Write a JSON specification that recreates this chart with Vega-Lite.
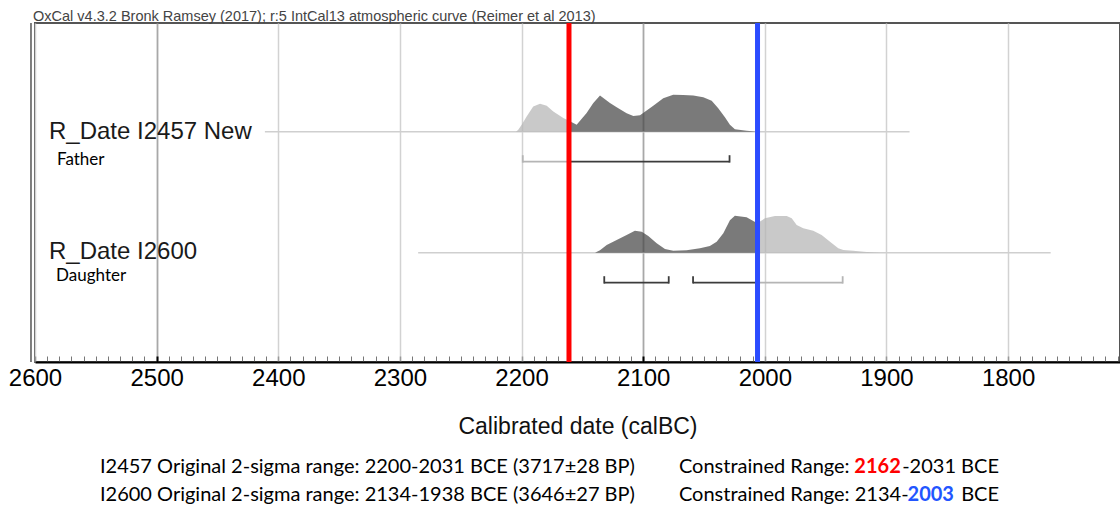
{
  "$schema": "https://vega.github.io/schema/vega-lite/v6.json",
  "width": 1085,
  "height": 339,
  "autosize": {"type": "none"},
  "padding": {"left": 35, "top": 23, "right": 0, "bottom": 144},
  "background": "white",
  "config": {"view": {"stroke": "#555", "strokeWidth": 2}},
  "datasets": {
    "density": [
      {"sample": "I2457", "part": "outside", "year": 2204.5, "prob": 0},
      {"sample": "I2457", "part": "outside", "year": 2202.7, "prob": 2},
      {"sample": "I2457", "part": "outside", "year": 2199.9, "prob": 7},
      {"sample": "I2457", "part": "outside", "year": 2195.8, "prob": 15.3},
      {"sample": "I2457", "part": "outside", "year": 2190.4, "prob": 25.3},
      {"sample": "I2457", "part": "outside", "year": 2184.8, "prob": 28},
      {"sample": "I2457", "part": "outside", "year": 2179.3, "prob": 26},
      {"sample": "I2457", "part": "outside", "year": 2173.9, "prob": 20.3},
      {"sample": "I2457", "part": "outside", "year": 2165.7, "prob": 13.7},
      {"sample": "I2457", "part": "outside", "year": 2161.0, "prob": 11},
      {"sample": "I2457", "part": "inside", "year": 2161.0, "prob": 11},
      {"sample": "I2457", "part": "inside", "year": 2154.7, "prob": 7},
      {"sample": "I2457", "part": "inside", "year": 2146.5, "prob": 18.7},
      {"sample": "I2457", "part": "inside", "year": 2141.0, "prob": 28.7},
      {"sample": "I2457", "part": "inside", "year": 2135.5, "prob": 36.3},
      {"sample": "I2457", "part": "inside", "year": 2127.3, "prob": 28.7},
      {"sample": "I2457", "part": "inside", "year": 2121.8, "prob": 24.4},
      {"sample": "I2457", "part": "inside", "year": 2113.6, "prob": 18.4},
      {"sample": "I2457", "part": "inside", "year": 2108.1, "prob": 15.7},
      {"sample": "I2457", "part": "inside", "year": 2102.6, "prob": 16.4},
      {"sample": "I2457", "part": "inside", "year": 2091.7, "prob": 26},
      {"sample": "I2457", "part": "inside", "year": 2083.5, "prob": 33.4},
      {"sample": "I2457", "part": "inside", "year": 2075.3, "prob": 37},
      {"sample": "I2457", "part": "inside", "year": 2067.1, "prob": 36.7},
      {"sample": "I2457", "part": "inside", "year": 2058.8, "prob": 36.3},
      {"sample": "I2457", "part": "inside", "year": 2050.6, "prob": 34.4},
      {"sample": "I2457", "part": "inside", "year": 2043.7, "prob": 31},
      {"sample": "I2457", "part": "inside", "year": 2038.3, "prob": 23.4},
      {"sample": "I2457", "part": "inside", "year": 2032.8, "prob": 14.4},
      {"sample": "I2457", "part": "inside", "year": 2028.7, "prob": 7},
      {"sample": "I2457", "part": "inside", "year": 2024.6, "prob": 2.4},
      {"sample": "I2457", "part": "inside", "year": 2015.0, "prob": 1},
      {"sample": "I2457", "part": "inside", "year": 2008.1, "prob": 0.3},
      {"sample": "I2457", "part": "inside", "year": 2006.0, "prob": 0},
      {"sample": "I2600", "part": "inside", "year": 2139.6, "prob": 0},
      {"sample": "I2600", "part": "inside", "year": 2135.5, "prob": 2.4},
      {"sample": "I2600", "part": "inside", "year": 2130.0, "prob": 7.7},
      {"sample": "I2600", "part": "inside", "year": 2121.8, "prob": 12.7},
      {"sample": "I2600", "part": "inside", "year": 2113.6, "prob": 17.7},
      {"sample": "I2600", "part": "inside", "year": 2106.8, "prob": 22},
      {"sample": "I2600", "part": "inside", "year": 2101.2, "prob": 21},
      {"sample": "I2600", "part": "inside", "year": 2095.8, "prob": 16.7},
      {"sample": "I2600", "part": "inside", "year": 2088.9, "prob": 9.4},
      {"sample": "I2600", "part": "inside", "year": 2082.1, "prob": 3.7},
      {"sample": "I2600", "part": "inside", "year": 2075.3, "prob": 2},
      {"sample": "I2600", "part": "inside", "year": 2064.3, "prob": 2.4},
      {"sample": "I2600", "part": "inside", "year": 2053.3, "prob": 4.4},
      {"sample": "I2600", "part": "inside", "year": 2045.2, "prob": 6.7},
      {"sample": "I2600", "part": "inside", "year": 2039.6, "prob": 11},
      {"sample": "I2600", "part": "inside", "year": 2034.1, "prob": 19.4},
      {"sample": "I2600", "part": "inside", "year": 2028.7, "prob": 32.4},
      {"sample": "I2600", "part": "inside", "year": 2024.6, "prob": 37},
      {"sample": "I2600", "part": "inside", "year": 2015.0, "prob": 35.4},
      {"sample": "I2600", "part": "inside", "year": 2006.2, "prob": 29.4},
      {"sample": "I2600", "part": "outside", "year": 2006.2, "prob": 29.4},
      {"sample": "I2600", "part": "outside", "year": 1999.9, "prob": 34.4},
      {"sample": "I2600", "part": "outside", "year": 1991.7, "prob": 36.7},
      {"sample": "I2600", "part": "outside", "year": 1982.0, "prob": 36.7},
      {"sample": "I2600", "part": "outside", "year": 1977.9, "prob": 34.4},
      {"sample": "I2600", "part": "outside", "year": 1973.8, "prob": 27.7},
      {"sample": "I2600", "part": "outside", "year": 1968.4, "prob": 24.4},
      {"sample": "I2600", "part": "outside", "year": 1960.2, "prob": 22},
      {"sample": "I2600", "part": "outside", "year": 1953.3, "prob": 17.7},
      {"sample": "I2600", "part": "outside", "year": 1946.4, "prob": 11},
      {"sample": "I2600", "part": "outside", "year": 1939.6, "prob": 4.4},
      {"sample": "I2600", "part": "outside", "year": 1935.5, "prob": 2.7},
      {"sample": "I2600", "part": "outside", "year": 1927.3, "prob": 2},
      {"sample": "I2600", "part": "outside", "year": 1916.3, "prob": 0.7},
      {"sample": "I2600", "part": "outside", "year": 1905.3, "prob": 0}
    ],
    "baselines": [
      {"sample": "I2457", "from": 2411, "to": 1881},
      {"sample": "I2600", "from": 2285, "to": 1765}
    ],
    "brackets": [
      {"sample": "I2457", "from": 2199, "to": 2161, "tone": "outside"},
      {"sample": "I2457", "from": 2161, "to": 2029, "tone": "inside"},
      {"sample": "I2600", "from": 2132, "to": 2079, "tone": "inside"},
      {"sample": "I2600", "from": 2059, "to": 2006, "tone": "inside"},
      {"sample": "I2600", "from": 2006, "to": 1936, "tone": "outside"}
    ],
    "bracketEnds": [
      {"sample": "I2457", "year": 2199, "tone": "outside"},
      {"sample": "I2457", "year": 2029, "tone": "inside"},
      {"sample": "I2600", "year": 2132, "tone": "inside"},
      {"sample": "I2600", "year": 2079, "tone": "inside"},
      {"sample": "I2600", "year": 2059, "tone": "inside"},
      {"sample": "I2600", "year": 1936, "tone": "outside"}
    ],
    "bounds": [
      {"bound": "I2457 constrained start", "year": 2161},
      {"bound": "I2600 constrained end", "year": 2006}
    ]
  },
  "layer": [
    {
      "layer": [
        {
          "data": {"name": "baselines"},
          "transform": [{"filter": "datum.sample === 'I2457'"}],
          "mark": {"type": "rule", "color": "#cfcfcf", "strokeWidth": 1.5},
          "encoding": {
            "x": {"field": "from", "type": "quantitative", "scale": {"domain": [1708, 2600], "reverse": true, "nice": false, "zero": false}, "axis": null},
            "x2": {"field": "to"},
            "y": {"datum": 0, "type": "quantitative", "scale": {"domain": [-230.3, 108.7], "nice": false, "zero": false}, "axis": null}
          }
        },
        {
          "data": {"name": "density"},
          "transform": [{"filter": "datum.sample === 'I2457'"}],
          "mark": {"type": "area", "opacity": 1, "fillOpacity": 0.72},
          "encoding": {
            "x": {"field": "year", "type": "quantitative", "scale": {"domain": [1708, 2600], "reverse": true, "nice": false, "zero": false}, "axis": null},
            "y": {"field": "prob", "type": "quantitative", "stack": null, "scale": {"domain": [-230.3, 108.7], "nice": false, "zero": false}, "axis": null},
            "y2": {"datum": 0},
            "fill": {"field": "part", "type": "nominal", "scale": {"domain": ["outside", "inside"], "range": ["#b4b4b4", "#464646"]}, "legend": null}
          }
        },
        {
          "data": {"name": "brackets"},
          "transform": [{"filter": "datum.sample === 'I2457'"}],
          "mark": {"type": "rule", "strokeWidth": 1.8},
          "encoding": {
            "x": {"field": "from", "type": "quantitative", "scale": {"domain": [1708, 2600], "reverse": true, "nice": false, "zero": false}, "axis": null},
            "x2": {"field": "to"},
            "y": {"datum": -30, "type": "quantitative", "scale": {"domain": [-230.3, 108.7], "nice": false, "zero": false}, "axis": null},
            "stroke": {"field": "tone", "type": "nominal", "scale": {"domain": ["outside", "inside"], "range": ["#b5b5b5", "#3c3c3c"]}, "legend": null}
          }
        },
        {
          "data": {"name": "bracketEnds"},
          "transform": [{"filter": "datum.sample === 'I2457'"}],
          "mark": {"type": "rule", "strokeWidth": 1.8},
          "encoding": {
            "x": {"field": "year", "type": "quantitative", "scale": {"domain": [1708, 2600], "reverse": true, "nice": false, "zero": false}, "axis": null},
            "y": {"datum": -30.9, "type": "quantitative", "scale": {"domain": [-230.3, 108.7], "nice": false, "zero": false}, "axis": null},
            "y2": {"datum": -23.5},
            "stroke": {"field": "tone", "type": "nominal", "scale": {"domain": ["outside", "inside"], "range": ["#b5b5b5", "#3c3c3c"]}, "legend": null}
          }
        },
        {
          "data": {"values": [{"label": "R_Date I2457 New"}]},
          "mark": {"type": "text", "align": "left", "baseline": "alphabetic", "font": "Liberation Sans", "fontSize": 24, "color": "#1a1a1a"},
          "encoding": {
            "text": {"field": "label"},
            "x": {"datum": 2588.5, "type": "quantitative", "scale": {"domain": [1708, 2600], "reverse": true, "nice": false, "zero": false}, "axis": null},
            "y": {"datum": -7.3, "type": "quantitative", "scale": {"domain": [-230.3, 108.7], "nice": false, "zero": false}, "axis": null}
          }
        },
        {
          "data": {"values": [{"label": "Father"}]},
          "mark": {"type": "text", "align": "left", "baseline": "alphabetic", "font": "Lato", "fontSize": 17, "color": "#000"},
          "encoding": {
            "text": {"field": "label"},
            "x": {"datum": 2581.9, "type": "quantitative", "scale": {"domain": [1708, 2600], "reverse": true, "nice": false, "zero": false}, "axis": null},
            "y": {"datum": -33.3, "type": "quantitative", "scale": {"domain": [-230.3, 108.7], "nice": false, "zero": false}, "axis": null}
          }
        }
      ]
    },
    {
      "layer": [
        {
          "data": {"name": "baselines"},
          "transform": [{"filter": "datum.sample === 'I2600'"}],
          "mark": {"type": "rule", "color": "#cfcfcf", "strokeWidth": 1.5},
          "encoding": {
            "x": {"field": "from", "type": "quantitative", "scale": {"domain": [1708, 2600], "reverse": true, "nice": false, "zero": false}, "axis": null},
            "x2": {"field": "to"},
            "y": {"datum": 0, "type": "quantitative", "scale": {"domain": [-109.3, 229.7], "nice": false, "zero": false}, "axis": null}
          }
        },
        {
          "data": {"name": "density"},
          "transform": [{"filter": "datum.sample === 'I2600'"}],
          "mark": {"type": "area", "opacity": 1, "fillOpacity": 0.72},
          "encoding": {
            "x": {"field": "year", "type": "quantitative", "scale": {"domain": [1708, 2600], "reverse": true, "nice": false, "zero": false}, "axis": null},
            "y": {"field": "prob", "type": "quantitative", "stack": null, "scale": {"domain": [-109.3, 229.7], "nice": false, "zero": false}, "axis": null},
            "y2": {"datum": 0},
            "fill": {"field": "part", "type": "nominal", "scale": {"domain": ["outside", "inside"], "range": ["#b4b4b4", "#464646"]}, "legend": null}
          }
        },
        {
          "data": {"name": "brackets"},
          "transform": [{"filter": "datum.sample === 'I2600'"}],
          "mark": {"type": "rule", "strokeWidth": 1.8},
          "encoding": {
            "x": {"field": "from", "type": "quantitative", "scale": {"domain": [1708, 2600], "reverse": true, "nice": false, "zero": false}, "axis": null},
            "x2": {"field": "to"},
            "y": {"datum": -30, "type": "quantitative", "scale": {"domain": [-109.3, 229.7], "nice": false, "zero": false}, "axis": null},
            "stroke": {"field": "tone", "type": "nominal", "scale": {"domain": ["outside", "inside"], "range": ["#b5b5b5", "#3c3c3c"]}, "legend": null}
          }
        },
        {
          "data": {"name": "bracketEnds"},
          "transform": [{"filter": "datum.sample === 'I2600'"}],
          "mark": {"type": "rule", "strokeWidth": 1.8},
          "encoding": {
            "x": {"field": "year", "type": "quantitative", "scale": {"domain": [1708, 2600], "reverse": true, "nice": false, "zero": false}, "axis": null},
            "y": {"datum": -30.9, "type": "quantitative", "scale": {"domain": [-109.3, 229.7], "nice": false, "zero": false}, "axis": null},
            "y2": {"datum": -23.5},
            "stroke": {"field": "tone", "type": "nominal", "scale": {"domain": ["outside", "inside"], "range": ["#b5b5b5", "#3c3c3c"]}, "legend": null}
          }
        },
        {
          "data": {"values": [{"label": "R_Date I2600"}]},
          "mark": {"type": "text", "align": "left", "baseline": "alphabetic", "font": "Liberation Sans", "fontSize": 24, "color": "#1a1a1a"},
          "encoding": {
            "text": {"field": "label"},
            "x": {"datum": 2588.5, "type": "quantitative", "scale": {"domain": [1708, 2600], "reverse": true, "nice": false, "zero": false}, "axis": null},
            "y": {"datum": -6.6, "type": "quantitative", "scale": {"domain": [-109.3, 229.7], "nice": false, "zero": false}, "axis": null}
          }
        },
        {
          "data": {"values": [{"label": "Daughter"}]},
          "mark": {"type": "text", "align": "left", "baseline": "alphabetic", "font": "Lato", "fontSize": 17, "color": "#000"},
          "encoding": {
            "text": {"field": "label"},
            "x": {"datum": 2582.7, "type": "quantitative", "scale": {"domain": [1708, 2600], "reverse": true, "nice": false, "zero": false}, "axis": null},
            "y": {"datum": -28.3, "type": "quantitative", "scale": {"domain": [-109.3, 229.7], "nice": false, "zero": false}, "axis": null}
          }
        },
        {
          "data": {"values": [{"label": "I2457 Original 2-sigma range: 2200-2031 BCE (3717±28 BP)"}]},
          "mark": {"type": "text", "align": "left", "baseline": "alphabetic", "font": "Lato", "fontSize": 20, "color": "#000"},
          "encoding": {
            "text": {"field": "label"},
            "x": {"datum": 2546.6, "type": "quantitative", "scale": {"domain": [1708, 2600], "reverse": true, "nice": false, "zero": false}, "axis": null},
            "y": {"datum": -220.3, "type": "quantitative", "scale": {"domain": [-109.3, 229.7], "nice": false, "zero": false}, "axis": null}
          }
        },
        {
          "data": {"values": [{"label": "I2600 Original 2-sigma range: 2134-1938 BCE (3646±27 BP)"}]},
          "mark": {"type": "text", "align": "left", "baseline": "alphabetic", "font": "Lato", "fontSize": 20, "color": "#000"},
          "encoding": {
            "text": {"field": "label"},
            "x": {"datum": 2546.6, "type": "quantitative", "scale": {"domain": [1708, 2600], "reverse": true, "nice": false, "zero": false}, "axis": null},
            "y": {"datum": -248.3, "type": "quantitative", "scale": {"domain": [-109.3, 229.7], "nice": false, "zero": false}, "axis": null}
          }
        },
        {
          "data": {"values": [{"label": "Constrained Range:"}]},
          "mark": {"type": "text", "align": "left", "baseline": "alphabetic", "font": "Lato", "fontSize": 20, "color": "#000"},
          "encoding": {
            "text": {"field": "label"},
            "x": {"datum": 2070.6, "type": "quantitative", "scale": {"domain": [1708, 2600], "reverse": true, "nice": false, "zero": false}, "axis": null},
            "y": {"datum": -220.3, "type": "quantitative", "scale": {"domain": [-109.3, 229.7], "nice": false, "zero": false}, "axis": null}
          }
        },
        {
          "data": {"values": [{"label": "2162"}]},
          "mark": {"type": "text", "align": "center", "baseline": "alphabetic", "font": "Lato", "fontSize": 20, "fontWeight": "bold", "color": "#ff0000"},
          "encoding": {
            "text": {"field": "label"},
            "x": {"datum": 1907.3, "type": "quantitative", "scale": {"domain": [1708, 2600], "reverse": true, "nice": false, "zero": false}, "axis": null},
            "y": {"datum": -220.3, "type": "quantitative", "scale": {"domain": [-109.3, 229.7], "nice": false, "zero": false}, "axis": null}
          }
        },
        {
          "data": {"values": [{"label": "-2031 BCE"}]},
          "mark": {"type": "text", "align": "right", "baseline": "alphabetic", "font": "Lato", "fontSize": 20, "color": "#000"},
          "encoding": {
            "text": {"field": "label"},
            "x": {"datum": 1807.5, "type": "quantitative", "scale": {"domain": [1708, 2600], "reverse": true, "nice": false, "zero": false}, "axis": null},
            "y": {"datum": -220.3, "type": "quantitative", "scale": {"domain": [-109.3, 229.7], "nice": false, "zero": false}, "axis": null}
          }
        },
        {
          "data": {"values": [{"label": "Constrained Range: 2134-"}]},
          "mark": {"type": "text", "align": "left", "baseline": "alphabetic", "font": "Lato", "fontSize": 20, "color": "#000"},
          "encoding": {
            "text": {"field": "label"},
            "x": {"datum": 2070.6, "type": "quantitative", "scale": {"domain": [1708, 2600], "reverse": true, "nice": false, "zero": false}, "axis": null},
            "y": {"datum": -248.3, "type": "quantitative", "scale": {"domain": [-109.3, 229.7], "nice": false, "zero": false}, "axis": null}
          }
        },
        {
          "data": {"values": [{"label": "2003"}]},
          "mark": {"type": "text", "align": "center", "baseline": "alphabetic", "font": "Lato", "fontSize": 20, "fontWeight": "bold", "color": "#2255ff"},
          "encoding": {
            "text": {"field": "label"},
            "x": {"datum": 1863.6, "type": "quantitative", "scale": {"domain": [1708, 2600], "reverse": true, "nice": false, "zero": false}, "axis": null},
            "y": {"datum": -248.3, "type": "quantitative", "scale": {"domain": [-109.3, 229.7], "nice": false, "zero": false}, "axis": null}
          }
        },
        {
          "data": {"values": [{"label": "BCE"}]},
          "mark": {"type": "text", "align": "right", "baseline": "alphabetic", "font": "Lato", "fontSize": 20, "color": "#000"},
          "encoding": {
            "text": {"field": "label"},
            "x": {"datum": 1807.5, "type": "quantitative", "scale": {"domain": [1708, 2600], "reverse": true, "nice": false, "zero": false}, "axis": null},
            "y": {"datum": -248.3, "type": "quantitative", "scale": {"domain": [-109.3, 229.7], "nice": false, "zero": false}, "axis": null}
          }
        }
      ]
    },
    {
      "data": {"values": [{"label": "OxCal v4.3.2 Bronk Ramsey (2017); r:5 IntCal13 atmospheric curve (Reimer et al 2013)"}]},
      "mark": {"type": "text", "align": "left", "baseline": "alphabetic", "font": "Liberation Sans", "fontSize": 14.5, "color": "#444"},
      "encoding": {
        "text": {"field": "label"},
        "x": {
          "datum": 2601.6,
          "type": "quantitative",
          "scale": {"domain": [1708, 2600], "reverse": true, "nice": false, "zero": false},
          "axis": {
            "orient": "bottom",
            "values": [2500, 2100],
            "labels": false,
            "domain": false,
            "title": null,
            "grid": true,
            "gridColor": "#a8a8a8",
            "gridWidth": 1.8,
            "tickSize": -6,
            "tickColor": "#000",
            "tickWidth": 2
          }
        },
        "y": {"datum": 110.7, "type": "quantitative", "scale": {"domain": [-230.3, 108.7], "nice": false, "zero": false}, "axis": null}
      }
    },
    {
      "data": {"values": [{"edge": "left frame"}]},
      "mark": {"type": "rule", "color": "#555", "strokeWidth": 1.5},
      "encoding": {
        "x": {
          "datum": 2603.3,
          "type": "quantitative",
          "scale": {"domain": [1708, 2600], "reverse": true, "nice": false, "zero": false},
          "axis": {
            "orient": "bottom",
            "values": [2590,2580,2570,2560,2550,2540,2530,2520,2510,2490,2480,2470,2460,2450,2440,2430,2420,2410,2390,2380,2370,2360,2350,2340,2330,2320,2310,2290,2280,2270,2260,2250,2240,2230,2220,2210,2190,2180,2170,2160,2150,2140,2130,2120,2110,2090,2080,2070,2060,2050,2040,2030,2020,2010,1990,1980,1970,1960,1950,1940,1930,1920,1910,1890,1880,1870,1860,1850,1840,1830,1820,1810,1790,1780,1770,1760,1750,1740,1730,1720,1710],
            "labels": false,
            "domain": false,
            "grid": false,
            "title": null,
            "tickSize": -6,
            "tickColor": "#777",
            "tickWidth": 1
          }
        }
      }
    },
    {
      "data": {"name": "bounds"},
      "transform": [{"filter": "datum.bound === 'I2600 constrained end'"}],
      "mark": {"type": "rule", "strokeWidth": 5},
      "encoding": {
        "x": {
          "field": "year",
          "type": "quantitative",
          "scale": {"domain": [1708, 2600], "reverse": true, "nice": false, "zero": false},
          "axis": {
            "orient": "bottom",
            "values": [2600, 2400, 2300, 2200, 2000, 1900, 1800],
            "labels": false,
            "domain": false,
            "title": null,
            "grid": true,
            "gridColor": "#d2d2d2",
            "gridWidth": 1.5,
            "tickSize": -6,
            "tickColor": "#999",
            "tickWidth": 1.5
          }
        },
        "color": {"field": "bound", "type": "nominal", "scale": {"domain": ["I2457 constrained start", "I2600 constrained end"], "range": ["#ff0000", "#2b4cff"]}, "legend": null}
      }
    },
    {
      "data": {"name": "bounds"},
      "transform": [{"filter": "datum.bound === 'I2457 constrained start'"}],
      "mark": {"type": "rule", "strokeWidth": 5},
      "encoding": {
        "x": {
          "field": "year",
          "type": "quantitative",
          "scale": {"domain": [1708, 2600], "reverse": true, "nice": false, "zero": false},
          "axis": {
            "orient": "bottom",
            "values": [2600, 2500, 2400, 2300, 2200, 2100, 2000, 1900, 1800],
            "format": "d",
            "labelOverlap": false,
            "labelFlush": false,
            "labelFont": "Liberation Sans",
            "labelFontSize": 24,
            "labelColor": "#000",
            "labelBaseline": "alphabetic",
            "labelPadding": 23,
            "ticks": false,
            "grid": false,
            "domainColor": "#000",
            "domainWidth": 2,
            "title": "Calibrated date (calBC)",
            "titleFont": "Liberation Sans",
            "titleFontSize": 23,
            "titleFontWeight": "normal",
            "titleColor": "#111",
            "titlePadding": 25
          }
        },
        "color": {"field": "bound", "type": "nominal", "scale": {"domain": ["I2457 constrained start", "I2600 constrained end"], "range": ["#ff0000", "#2b4cff"]}, "legend": null}
      }
    }
  ],
  "resolve": {"scale": {"y": "independent"}, "axis": {"x": "independent"}}
}
